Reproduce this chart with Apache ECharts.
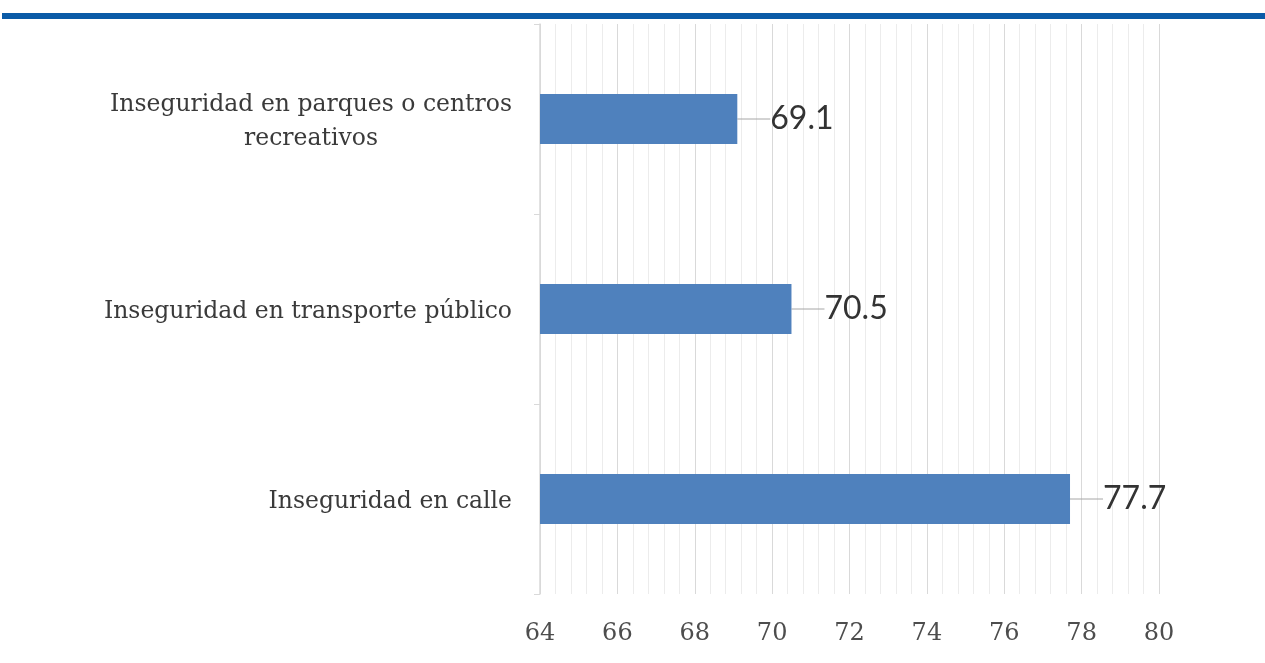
<!DOCTYPE html>
<html>
<head>
<meta charset="utf-8">
<script src="https://cdn.jsdelivr.net/npm/echarts@6/dist/echarts.min.js"></script>
<style>
  html, body { margin: 0; padding: 0; background: #fff; }
  #chart { width: 1265px; height: 663px; }
</style>
</head>
<body>
<div id="chart"></div>
<script>
  // categories top -> bottom
  var categories = ['Inseguridad en parques o centros\nrecreativos', 'Inseguridad en transporte público', 'Inseguridad en calle'];
  var values = [69.1, 70.5, 77.7];
  var axisMin = 64, axisMax = 80, axisStep = 2;

  var chart = echarts.init(document.getElementById('chart'));
  chart.setOption({
    animation: false,
    graphic: [
      { type: 'rect', left: 2, top: 13, shape: { width: 1263, height: 6 }, style: { fill: '#0b5ba7' } }
    ],
    grid: { left: 540, right: 106, top: 24, bottom: 69 },
    xAxis: {
      type: 'value',
      min: axisMin,
      max: axisMax,
      interval: axisStep,
      axisLine: { show: false },
      axisTick: { show: false },
      axisLabel: { margin: 28, fontFamily: 'DejaVu Serif', fontSize: 24, color: '#4d4d4d' },
      splitLine: { show: true, lineStyle: { color: '#d9d9d9', width: 1 } },
      minorTick: { show: false, splitNumber: 5 },
      minorSplitLine: { show: true, lineStyle: { color: '#ececec', width: 1 } }
    },
    yAxis: {
      type: 'category',
      inverse: true,
      data: categories,
      axisLine: { show: true, lineStyle: { color: '#d9d9d9', width: 1.5 } },
      axisTick: { show: true, length: 6, lineStyle: { color: '#d9d9d9' } },
      axisLabel: {
        margin: 28,
        padding: [6, 0, 0, 0],
        formatter: function (v) {
          return v.split('\n').map(function (s) { return '{a|' + s + '}'; }).join('\n');
        },
        rich: {
          a: { align: 'center', fontFamily: 'DejaVu Serif', fontSize: 23.5, color: '#3a3a3a', lineHeight: 34 }
        }
      }
    },
    series: [{
      type: 'bar',
      data: values,
      barWidth: 50,
      itemStyle: { color: '#4f81bd' },
      label: {
        show: true,
        position: 'right',
        distance: 4,
        fontFamily: 'Lato',
        fontSize: 32,
        color: '#333333'
      },
      labelLayout: { dx: 29 },
      labelLine: { show: true, lineStyle: { color: '#a6a6a6', width: 1 } }
    }]
  });
</script>
</body>
</html>
